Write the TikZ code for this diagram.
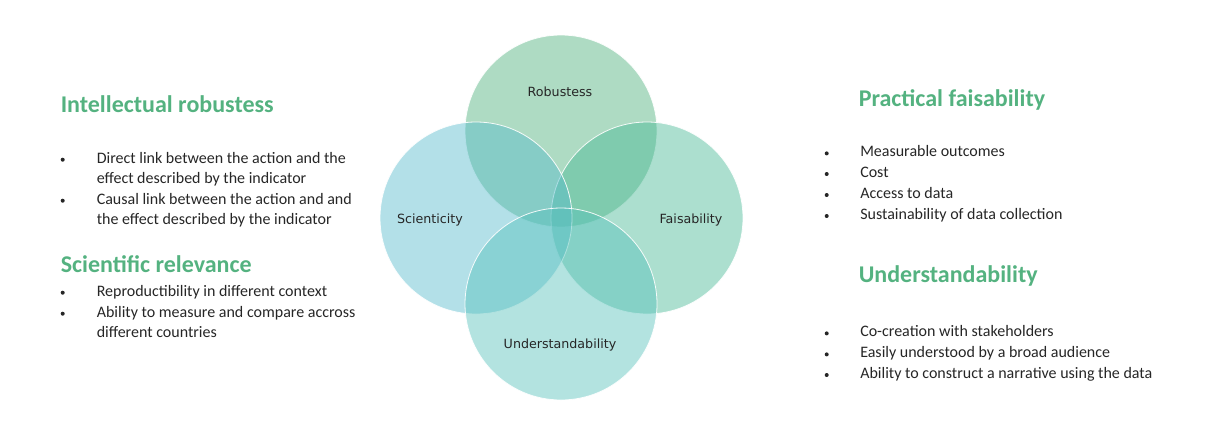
\documentclass[tikz,border=0pt]{standalone}
\usepackage{fontspec}
\setmainfont{Carlito}
\newfontfamily\vennfont{DejaVu Sans}
\usepackage{xcolor}
\usepackage{tikz}
\usetikzlibrary{positioning}
\definecolor{crob}{RGB}{75,175,122}
\definecolor{csci}{RGB}{86,186,204}
\definecolor{cfai}{RGB}{71,184,149}
\definecolor{cund}{RGB}{86,193,187}
\definecolor{chead}{RGB}{84,178,128}
\definecolor{ctext}{RGB}{38,38,38}

\begin{document}
\begin{tikzpicture}[
  x=0.75pt, y=-0.75pt,
  venn/.style={circle, minimum size=144pt, inner sep=0pt, draw=white, line width=0.6pt, fill opacity=0.45, draw opacity=0.9},
  vlbl/.style={font=\vennfont\fontsize{9.5}{11}\selectfont, text=ctext, anchor=base, inner sep=0pt},
  head/.style={font=\fontsize{18}{22}\selectfont\bfseries, text=chead, anchor=base west, inner sep=0pt},
  itm/.style={font=\fontsize{12}{15}\selectfont, text=ctext, anchor=base west, inner sep=0pt},
  dot/.style={circle, fill=ctext, minimum size=3pt, inner sep=0pt},
]
  \useasboundingbox (0,0) rectangle (1209,447);
  % --- the four circles ---
  \node[venn, fill=crob] (rob) at (561,131) {};
  \node[venn, fill=cfai] (fai) at (647,218) {};
  \node[venn, fill=csci] (sci) at (476,218) {};
  \node[venn, fill=cund] (und) at (561,304) {};
  \node[vlbl] (robl) at (560,96.7) {Robustess};
  \node[vlbl] (scil) at (430,223.3) {Scienticity};
  \node[vlbl] (fail) at (691,223.3) {Faisability};
  \node[vlbl] (undl) at (560,348.3) {Understandability};
  % --- left column ---
  \node[head] (hir) at (60.5,112) {Intellectual robustess};
  \node[head] (hsr) at (60.5,272.7) {Scientific relevance};
  \foreach \y/\t [count=\i] in {163/Direct link between the action and the,
      183/effect described by the indicator,
      204/Causal link between the action and and,
      224/the effect described by the indicator,
      296/Reproductibility in different context,
      317/Ability to measure and compare accross,
      337.7/different countries}
    {\node[itm] (lt\i) at (96.5,\y) {\t};}
  \foreach \y [count=\i] in {163,204,296,317} {\node[dot] (lb\i) at (62.7,\y-3.3) {};}
  % --- right column ---
  \node[head] (hpf) at (858.5,106) {Practical faisability};
  \node[head] (hun) at (858.5,282) {Understandability};
  \foreach \y/\t [count=\i] in {156.7/Measurable outcomes,
      177.3/Cost,
      198.3/Access to data,
      219.3/Sustainability of data collection,
      336.7/Co-creation with stakeholders,
      357.7/Easily understood by a broad audience,
      378.3/Ability to construct a narrative using the data}
    {\node[itm] (rt\i) at (860,\y) {\t};
     \node[dot] (rb\i) at (826.7,\y-3.3) {};}
\end{tikzpicture}
\end{document}
